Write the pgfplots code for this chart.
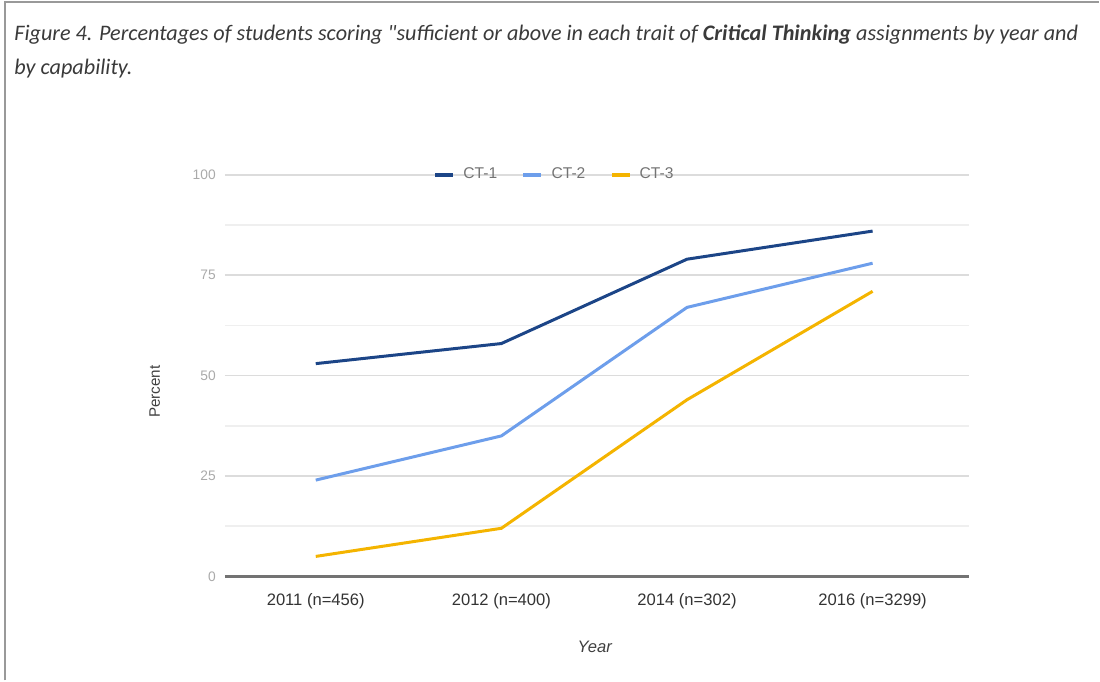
\documentclass[border=0pt]{standalone}
\usepackage{fontspec}
\setmainfont{Liberation Sans}
\newfontfamily\capfont{Carlito}
\usepackage{pgfplots}
\pgfplotsset{compat=1.18}

\definecolor{ctone}{HTML}{1C4587}
\definecolor{cttwo}{HTML}{6D9EEB}
\definecolor{ctthree}{HTML}{F4B400}
\definecolor{gridmaj}{HTML}{DCDCDC}
\definecolor{gridmin}{HTML}{EFEFEF}
\definecolor{ticklab}{HTML}{AAAAAA}
\definecolor{capcol}{HTML}{3A3A3A}

\begin{document}
\begin{tikzpicture}
% page frame, 1px = 0.5pt
\path (0,0) rectangle (550pt,-340.5pt);
\draw[gray!80, line width=1pt] (2.5pt,-340.5pt) -- (2.5pt,-1pt) -- (550pt,-1pt);

% caption
\node[anchor=base west, font=\capfont\itshape\fontsize{11.1pt}{12pt}\selectfont, text=capcol, inner sep=0pt]
  at (7pt,-20.5pt) {Figure 4. Percentages of students scoring "sufficient or above in each trait of \textbf{Critical Thinking} assignments by year and};
\node[anchor=base west, font=\capfont\itshape\fontsize{11.1pt}{12pt}\selectfont, text=capcol, inner sep=0pt]
  at (7pt,-37.5pt) {by capability.};

\begin{axis}[
    at={(112.5pt,-288.5pt)}, anchor=south west,
    scale only axis,
    width=372.5pt, height=201pt,
    xmin=-0.49, xmax=3.52,
    ymin=0, ymax=100,
    xtick=data,
    xticklabels={2011 (n=456), 2012 (n=400), 2014 (n=302), 2016 (n=3299)},
    ytick={0,25,50,75,100},
    minor ytick={12.5,37.5,62.5,87.5},
    ymajorgrids, yminorgrids,
    major grid style={gridmaj, line width=0.8pt},
    minor grid style={gridmin, line width=0.8pt},
    extra y ticks={0},
    extra y tick labels={},
    extra y tick style={major grid style={black!55, line width=1.4pt}},
    axis line style={draw=none},
    tick style={draw=none},
    /pgf/number format/assume math mode=true,
    yticklabel style={font=\fontsize{6.9pt}{8pt}\selectfont, text=ticklab, xshift=-1pt},
    xticklabel style={font=\fontsize{8.3pt}{10pt}\selectfont, text=black!80, yshift=-5pt},
    ylabel={Percent},
    ylabel style={font=\fontsize{7.6pt}{9pt}\selectfont, text=black!75, rotate=0,
      at={(axis description cs:-0.094,0.46)}, anchor=center},
    xlabel={\itshape Year},
    xlabel style={font=\fontsize{8.3pt}{10pt}\selectfont, text=black!75,
      at={(axis description cs:0.497,-0.174)}, anchor=center},
    legend style={at={(axis description cs:0.444,1)}, anchor=center,
      draw=none, fill=none, legend columns=3,
      font=\fontsize{7.8pt}{9pt}\selectfont, text=black!55,
      /tikz/every odd column/.append style={column sep=2pt},
      /tikz/every even column/.append style={column sep=10pt},
      inner sep=0pt},
    legend image code/.code={\draw[#1, line width=2.2pt] (0pt,0pt) -- (9pt,0pt);},
    clip=false,
]
\addplot[ctone, line width=1.5pt] coordinates {(0,53) (1,58) (2,79) (3,86)};
\addplot[cttwo, line width=1.5pt] coordinates {(0,24) (1,35) (2,67) (3,78)};
\addplot[ctthree, line width=1.5pt] coordinates {(0,5) (1,12) (2,44) (3,71)};
\legend{CT-1, CT-2, CT-3}
\end{axis}
\end{tikzpicture}
\end{document}
